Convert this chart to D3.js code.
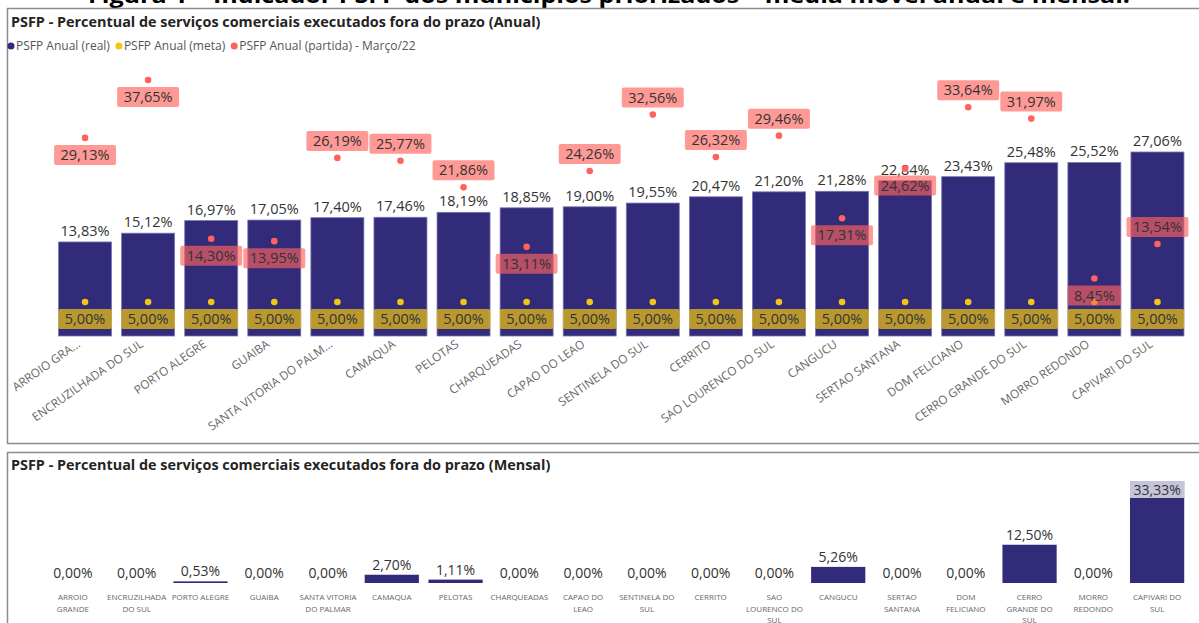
<!DOCTYPE html>
<html lang="pt-BR">
<head>
<meta charset="utf-8">
<script src="https://d3js.org/d3.v7.min.js"></script>
<style>
    body {
        margin: 0px;
        background: #fff;
    }
    svg {
        display: block;
    }
    text {
        font-family: "Open Sans", "Noto Sans", sans-serif;
    }
</style>
</head>
<body>
<svg id="chart" width="1199" height="623"></svg>
<script>
// Dados
var cidadesAnual = ["ARROIO GRA...", "ENCRUZILHADA DO SUL", "PORTO ALEGRE", "GUAIBA",
    "SANTA VITORIA DO PALM...", "CAMAQUA", "PELOTAS", "CHARQUEADAS", "CAPAO DO LEAO",
    "SENTINELA DO SUL", "CERRITO", "SAO LOURENCO DO SUL", "CANGUCU", "SERTAO SANTANA",
    "DOM FELICIANO", "CERRO GRANDE DO SUL", "MORRO REDONDO", "CAPIVARI DO SUL"];
var anualReal = [13.83, 15.12, 16.97, 17.05, 17.40, 17.46, 18.19, 18.85, 19.00,
    19.55, 20.47, 21.20, 21.28, 22.84, 23.43, 25.48, 25.52, 27.06];
var anualMeta = [5, 5, 5, 5, 5, 5, 5, 5, 5, 5, 5, 5, 5, 5, 5, 5, 5, 5];
var anualPartida = [29.13, 37.65, 14.30, 13.95, 26.19, 25.77, 21.86, 13.11, 24.26,
    32.56, 26.32, 29.46, 17.31, 24.62, 33.64, 31.97, 8.45, 13.54];

var cidadesMensal = ["ARROIO\nGRANDE", "ENCRUZILHADA\nDO SUL", "PORTO ALEGRE", "GUAIBA",
    "SANTA VITORIA\nDO PALMAR", "CAMAQUA", "PELOTAS", "CHARQUEADAS", "CAPAO DO\nLEAO",
    "SENTINELA DO\nSUL", "CERRITO", "SAO\nLOURENCO DO\nSUL", "CANGUCU", "SERTAO\nSANTANA",
    "DOM\nFELICIANO", "CERRO\nGRANDE DO\nSUL", "MORRO\nREDONDO", "CAPIVARI DO\nSUL"];
var mensalValores = [0, 0, 0.53, 0, 0, 2.70, 1.11, 0, 0, 0, 0, 0, 5.26, 0, 0, 12.50, 0, 33.33];

// lado do rotulo da partida (como o Power BI posicionou): b = abaixo, c = acima
var ladoPartida = ["b", "b", "b", "b", "c", "c", "c", "b", "c", "c", "c", "c", "b", "b", "c", "c", "b", "c"];

var corReal = "#312b7a";
var corMeta = "#f2c80f";
var corPartida = "#fd625e";

var svg = d3.select("#chart");
var loc = d3.formatLocale({decimal: ",", thousands: ".", grouping: [3], currency: ["R$", ""]});
var f2 = loc.format(".2f");
function pct(v) { return f2(v) + "%"; }

// Legenda da figura (cortada no topo)
svg.append("text")
    .attr("x", 88)
    .attr("y", 3)
    .attr("font-size", 22)
    .attr("font-weight", "bold")
    .attr("textLength", 1042)
    .attr("lengthAdjust", "spacingAndGlyphs")
    .attr("fill", "#000")
    .text("Figura 1 – Indicador PSFP dos municípios priorizados – média móvel anual e mensal.");

// Molduras dos dois visuais
[[8.5, 435], [452.5, 200]].forEach(function(p) {
    svg.append("rect")
        .attr("x", 7.5).attr("y", p[0])
        .attr("width", 1200).attr("height", p[1])
        .attr("fill", "none")
        .attr("stroke", "#8c8c8c")
        .attr("stroke-width", 1.5);
});

// ---------- Visual anual ----------
svg.append("text")
    .attr("x", 11).attr("y", 27)
    .attr("font-size", 14.4).attr("font-weight", "bold")
    .attr("fill", "#252423")
    .text("PSFP - Percentual de serviços comerciais executados fora do prazo (Anual)");

var legenda = [
    {nome: "PSFP Anual (real)", cor: corReal},
    {nome: "PSFP Anual (meta)", cor: corMeta},
    {nome: "PSFP Anual (partida) - Março/22", cor: corPartida}
];
var lx = 11;
legenda.forEach(function(l) {
    svg.append("circle").attr("cx", lx).attr("cy", 46).attr("r", 3.5).attr("fill", l.cor);
    var t = svg.append("text")
        .attr("x", lx + 5).attr("y", 50)
        .attr("font-size", 12).attr("fill", "#555")
        .text(l.nome);
    lx += t.node().getComputedTextLength() + 14;
});

var xA = d3.scaleBand()
    .domain(cidadesAnual)
    .range([53.5, 1189])
    .paddingInner(0.16)
    .paddingOuter(0.08);
var yA = d3.scaleLinear().domain([0, 40]).range([336, 64]);
var bwA = xA.bandwidth();

var gA = svg.append("g");

gA.selectAll("rect.real")
    .data(anualReal)
    .enter().append("rect")
    .attr("class", "real")
    .attr("x", function(d, i) { return xA(cidadesAnual[i]); })
    .attr("y", function(d) { return yA(d); })
    .attr("width", bwA)
    .attr("height", function(d) { return yA(0) - yA(d); })
    .attr("fill", corReal)
    .attr("stroke", "#7b77b4")
    .attr("stroke-width", 0.8);

// rotulos do real
gA.selectAll("text.real")
    .data(anualReal)
    .enter().append("text")
    .attr("class", "real")
    .attr("x", function(d, i) { return xA(cidadesAnual[i]) + bwA / 2; })
    .attr("y", function(d) { return yA(d) - 6; })
    .attr("text-anchor", "middle")
    .attr("font-size", 14.5)
    .attr("fill", "#333")
    .text(pct);

// ponto + rotulo com caixa
function pontoRotulo(g, cx, cy, valor, cor, lado, opac) {
    g.append("circle").attr("cx", cx).attr("cy", cy).attr("r", 3.3).attr("fill", cor);
    var by = lado === "b" ? cy + 7 : cy - 27;
    var box = g.append("rect").attr("y", by).attr("height", 20)
        .attr("fill", cor).attr("opacity", opac).attr("rx", 2);
    var t = g.append("text")
        .attr("x", cx).attr("y", by + 15)
        .attr("text-anchor", "middle")
        .attr("font-size", 14.5)
        .attr("fill", "#333")
        .text(pct(valor));
    var w = t.node().getComputedTextLength() + 13;
    box.attr("x", cx - w / 2).attr("width", w);
}

anualMeta.forEach(function(v, i) {
    pontoRotulo(gA, xA(cidadesAnual[i]) + bwA / 2, yA(v), v, corMeta, "b", 0.7);
});
anualPartida.forEach(function(v, i) {
    pontoRotulo(gA, xA(cidadesAnual[i]) + bwA / 2, yA(v), v, corPartida, ladoPartida[i], 0.65);
});

// eixo x inclinado
gA.selectAll("text.cat")
    .data(cidadesAnual)
    .enter().append("text")
    .attr("class", "cat")
    .attr("transform", function(d) {
        return "translate(" + (xA(d) + bwA / 2 - 4) + ",346) rotate(-35)";
    })
    .attr("text-anchor", "end")
    .attr("font-size", 11.8)
    .attr("fill", "#666")
    .text(function(d) { return d; });

// ---------- Visual mensal ----------
svg.append("text")
    .attr("x", 11).attr("y", 470)
    .attr("font-size", 14.4).attr("font-weight", "bold")
    .attr("fill", "#252423")
    .text("PSFP - Percentual de serviços comerciais executados fora do prazo (Mensal)");

var xM = d3.scaleBand()
    .domain(cidadesMensal)
    .range([41, 1189])
    .paddingInner(0.15)
    .paddingOuter(0.075);
var yM = d3.scaleLinear().domain([0, 33.33]).range([583, 481]);
var bwM = xM.bandwidth();

var gM = svg.append("g");

gM.selectAll("rect.mes")
    .data(mensalValores)
    .enter().append("rect")
    .attr("class", "mes")
    .attr("x", function(d, i) { return xM(cidadesMensal[i]); })
    .attr("y", function(d) { return yM(d); })
    .attr("width", bwM)
    .attr("height", function(d) { return yM(0) - yM(d); })
    .attr("fill", corReal);

mensalValores.forEach(function(v, i) {
    var cx = xM(cidadesMensal[i]) + bwM / 2;
    var dentro = yM(v) - 18 < 481;
    if (dentro) {
        gM.append("rect")
            .attr("x", xM(cidadesMensal[i])).attr("y", yM(v))
            .attr("width", bwM).attr("height", 17)
            .attr("fill", "#fff").attr("opacity", 0.72);
    }
    gM.append("text")
        .attr("x", cx)
        .attr("y", dentro ? yM(v) + 14 : yM(v) - 5)
        .attr("text-anchor", "middle")
        .attr("font-size", 14)
        .attr("fill", "#333")
        .text(pct(v));
});

gM.selectAll("text.cat")
    .data(cidadesMensal)
    .enter().append("text")
    .attr("class", "cat")
    .attr("text-anchor", "middle")
    .attr("font-size", 8)
    .attr("fill", "#666")
    .each(function(d) {
        var t = d3.select(this);
        d.split("\n").forEach(function(linha, k) {
            t.append("tspan")
                .attr("x", xM(d) + bwM / 2)
                .attr("y", 600 + k * 11.5)
                .text(linha);
        });
    });
</script>
</body>
</html>
